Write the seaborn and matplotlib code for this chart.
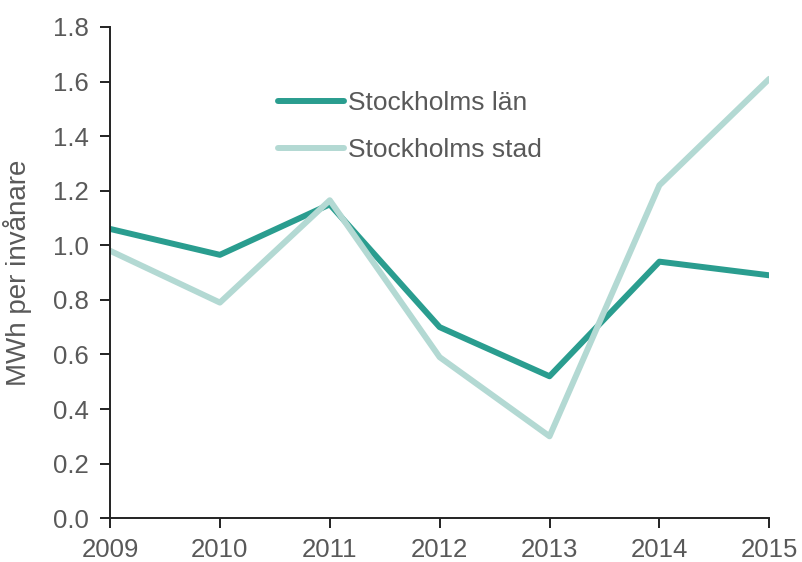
import numpy as np
import pandas as pd
import seaborn as sns
import matplotlib.pyplot as plt

# values
years = [2009, 2010, 2011, 2012, 2013, 2014, 2015]
lan = [1.06, 0.965, 1.15, 0.70, 0.52, 0.94, 0.89]
stad = [0.98, 0.79, 1.165, 0.59, 0.30, 1.22, 1.61]
series_names = ["Stockholms län", "Stockholms stad"]
colors = ["#2a9d8f", "#b3d9d3"]

df = pd.DataFrame({
    "year": years * 2,
    "value": lan + stad,
    "series": [series_names[0]] * len(years) + [series_names[1]] * len(years),
})

sns.set_style("white")
plt.rcParams['font.family'] = ['Liberation Sans', 'DejaVu Sans']
text_color = "#595959"

fig = plt.figure(figsize=(8.03, 5.62), dpi=100)
ax = fig.add_axes([0.137, 0.078, 0.821, 0.874])

sns.lineplot(data=df, x="year", y="value", hue="series", palette=colors,
             linewidth=4.3, ax=ax, solid_capstyle="round")

ax.set_xlim(2009, 2015)
ax.set_ylim(0, 1.8)
ax.set_xticks(years)
ax.set_yticks(np.arange(0, 1.81, 0.2))
ax.set_yticklabels([f"{v:.1f}" for v in np.arange(0, 1.81, 0.2)])

for s in ["top", "right"]:
    ax.spines[s].set_visible(False)
for s in ["left", "bottom"]:
    ax.spines[s].set_color("#222222")
    ax.spines[s].set_linewidth(1.4)

ax.tick_params(axis="both", direction="out", length=7, width=1.4, color="#222222",
               labelsize=18.5, labelcolor=text_color, left=True, bottom=True)
ax.tick_params(axis="y", pad=8)
ax.tick_params(axis="x", pad=7)

ax.set_xlabel("")
ax.set_ylabel("MWh per invånare", fontsize=20, color=text_color)
ax.yaxis.set_label_coords(-0.118, 0.5)

leg = ax.legend(loc="center left", bbox_to_anchor=(0.255, 0.797), frameon=False,
                fontsize=19, handlelength=2.5, handletextpad=0.15,
                labelspacing=0.85, borderpad=0, borderaxespad=0)
for t in leg.get_texts():
    t.set_color(text_color)
for h in leg.get_lines():
    h.set_linewidth(4.3)

fig.savefig("out.png", dpi=100)
